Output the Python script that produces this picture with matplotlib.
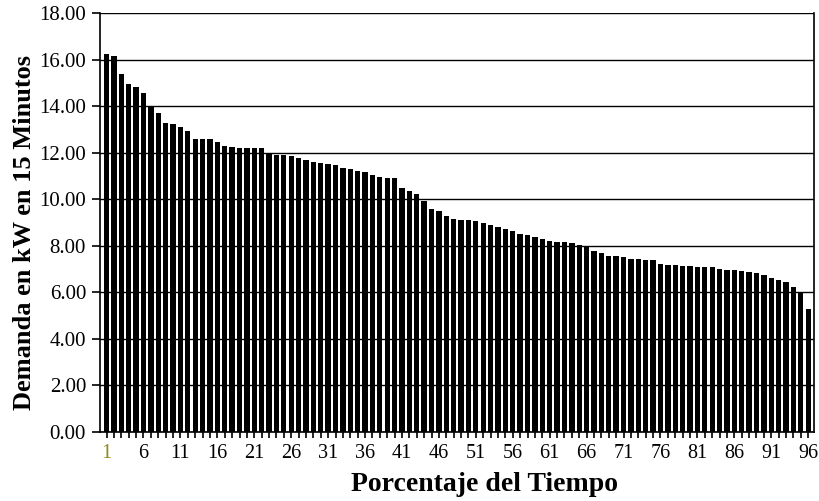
import numpy as np
import matplotlib.pyplot as plt

# demanda ordenada de mayor a menor (kW en 15 minutos), 96 intervalos
demanda = [
    16.22, 16.16, 15.37, 14.95, 14.83, 14.57, 14.00, 13.69, 13.26, 13.24,
    13.11, 12.94, 12.58, 12.58, 12.58, 12.44, 12.29, 12.23, 12.20, 12.19,
    12.19, 12.18, 12.00, 11.90, 11.89, 11.86, 11.79, 11.69, 11.61, 11.56,
    11.52, 11.48, 11.35, 11.30, 11.19, 11.18, 11.06, 10.95, 10.91, 10.89,
    10.48, 10.33, 10.21, 9.91, 9.57, 9.49, 9.28, 9.16, 9.12, 9.09,
    9.06, 8.99, 8.91, 8.82, 8.72, 8.64, 8.50, 8.45, 8.38, 8.30,
    8.21, 8.18, 8.14, 8.10, 8.01, 7.97, 7.79, 7.69, 7.57, 7.56,
    7.53, 7.43, 7.42, 7.38, 7.38, 7.22, 7.18, 7.18, 7.13, 7.11,
    7.09, 7.09, 7.08, 7.01, 6.95, 6.95, 6.92, 6.89, 6.84, 6.74,
    6.62, 6.51, 6.44, 6.23, 6.00, 5.26,
]
intervalos = list(range(1, len(demanda) + 1))
etiquetas_x = list(range(1, 97, 5))
ticks_y = list(range(0, 19, 2))

serif = ["Liberation Serif", "DejaVu Serif"]

fig = plt.figure(figsize=(8.19, 5.01), dpi=100)
ax = fig.add_axes([0.122, 0.138, 0.872, 0.836])

ax.bar(intervalos, demanda, width=0.72, color="black", zorder=2)

ax.set_xlim(0.1, 96.8)
ax.set_ylim(0, 18)
ax.set_yticks(ticks_y)
ax.set_yticklabels([f"{v:.2f}" for v in ticks_y], family=serif, fontsize=15)
ax.set_xticks(etiquetas_x)
ax.set_xticklabels([str(v) for v in etiquetas_x], family=serif, fontsize=14.5)
ax.set_xticks(intervalos, minor=True)
ax.get_xticklabels()[0].set_color("#8f8a1c")

ax.tick_params(axis="y", direction="out", length=6, width=1.2, pad=4)
ax.tick_params(axis="x", which="both", direction="out", length=4, width=1.2, pad=5)

ax.yaxis.grid(True, color="black", linewidth=1.0, zorder=1)
ax.set_axisbelow(True)
for s in ax.spines.values():
    s.set_linewidth(1.2)
ax.spines["top"].set_visible(False)

ax.set_xlabel("Porcentaje del Tiempo", family=serif, fontsize=20, fontweight="bold")
ax.set_ylabel("Demanda en kW en 15 Minutos", family=serif, fontsize=19, fontweight="bold")
ax.xaxis.set_label_coords(0.538, -0.096)
ax.yaxis.set_label_coords(-0.09, 0.477)

fig.savefig("out.png", dpi=100)
